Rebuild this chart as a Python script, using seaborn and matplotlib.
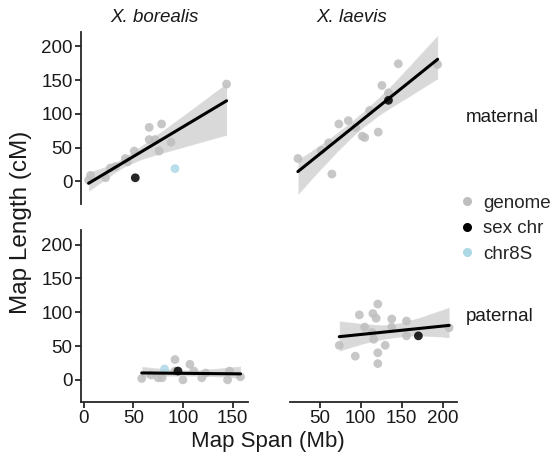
import numpy as np
import pandas as pd
import matplotlib
matplotlib.use("Agg")
import matplotlib.pyplot as plt
from matplotlib.lines import Line2D
import seaborn as sns

# ---- data -------------------------------------------------------------
# X. borealis, maternal
bor_mat_span = [144, 7, 5, 22, 27, 32, 42, 44, 51, 66, 78.5, 66, 72, 76, 88, 52, 92]
bor_mat_len = [144, 9, 2, 5.5, 20, 22, 34, 29, 45, 80, 85, 62, 62, 45, 58, 5.5, 19]
bor_mat_type = ['genome'] * 15 + ['sex chr', 'chr8S']

# X. laevis, maternal
lae_mat_span = [23.5, 65, 52, 61, 73.5, 85, 94, 102, 105, 111, 121.5, 126, 134, 146, 194, 134]
lae_mat_len = [34, 11, 46, 57, 85, 90, 80, 67, 65, 105, 73, 142, 131, 174, 173, 120]
lae_mat_type = ['genome'] * 15 + ['sex chr']

# X. borealis, paternal
bor_pat_span = [58.5, 68, 75, 79, 92, 92, 100, 107, 111, 119, 123, 145, 147, 158, 95, 81.5]
bor_pat_len = [2, 7, 3, 3, 30, 13, 0, 23, 13, 3, 10, 0, 13, 4.5, 13, 16]
bor_pat_type = ['genome'] * 14 + ['sex chr', 'chr8S']

# X. laevis, paternal
lae_pat_span = [74, 93.5, 98.5, 105, 114, 115, 119, 121, 116, 121, 121, 130, 138, 138,
                156, 156, 208, 170.5]
lae_pat_len = [51, 35, 96, 78, 70, 98, 91, 112, 60, 40, 24, 51, 90, 78, 87, 65, 77, 65]
lae_pat_type = ['genome'] * 17 + ['sex chr']

species = ['X. borealis', 'X. laevis']
parents = ['maternal', 'paternal']
types = ['genome', 'sex chr', 'chr8S']

paleta = {'genome': '#BEBEBE', 'sex chr': '#000000', 'chr8S': '#ADD8E6'}

paneles = {
    ('X. borealis', 'maternal'): (bor_mat_span, bor_mat_len, bor_mat_type),
    ('X. laevis', 'maternal'): (lae_mat_span, lae_mat_len, lae_mat_type),
    ('X. borealis', 'paternal'): (bor_pat_span, bor_pat_len, bor_pat_type),
    ('X. laevis', 'paternal'): (lae_pat_span, lae_pat_len, lae_pat_type),
}

# ---- figure -----------------------------------------------------------
sns.set_style("white")
plt.rcParams['font.family'] = ['Liberation Sans', 'DejaVu Sans']
plt.rcParams['font.size'] = 13.5

fig = plt.figure(figsize=(5.55, 4.57), dpi=100)

# posiciones de los paneles (fracciones de figura)
col_left = [0.146, 0.523]
col_w = 0.301
row_bottom = [0.554, 0.120]
row_h = 0.376
xlims = [(-2.65, 165.65), (14.2, 218)]
xticks = [[0, 50, 100, 150], [50, 100, 150, 200]]
title_x = [0.278, 0.634]

for i, par in enumerate(parents):
    for j, sp in enumerate(species):
        ax = fig.add_axes([col_left[j], row_bottom[i], col_w, row_h])
        span, length, tipo = paneles[(sp, par)]
        df = pd.DataFrame({'span': span, 'length': length, 'type': tipo})

        sns.regplot(data=df, x='span', y='length', scatter=False, ax=ax,
                    color='black', ci=95, n_boot=2000, seed=3,
                    line_kws={'lw': 2.2, 'zorder': 4})
        sns.scatterplot(data=df, x='span', y='length', hue='type',
                        palette=paleta, hue_order=types, s=40, alpha=0.85,
                        edgecolor='none', legend=False, ax=ax, zorder=3)

        ax.set_xlim(*xlims[j])
        ax.set_ylim(-33, 221)
        ax.set_xlabel('')
        ax.set_ylabel('')
        for s in ['top', 'right']:
            ax.spines[s].set_visible(False)
        ax.spines['left'].set_linewidth(1.3)
        ax.spines['bottom'].set_linewidth(1.3)
        ax.tick_params(width=1.1, length=4, labelsize=13.5, pad=2,
                       colors='black', labelcolor='#1a1a1a')

        if j == 0:
            ax.set_yticks([0, 50, 100, 150, 200])
            ax.tick_params(axis='y', left=True)
        else:
            ax.spines['left'].set_visible(False)
            ax.set_yticks([])
        if i == 1:
            ax.set_xticks(xticks[j])
            ax.tick_params(axis='x', bottom=True)
        else:
            ax.spines['bottom'].set_visible(False)
            ax.set_xticks([])

        if i == 0:
            fig.text(title_x[j], 0.961, sp, style='italic', fontsize=13.5,
                     ha='center', va='center', color='#1a1a1a')
        if j == 1:
            ax.text(1.05, 0.5, par, transform=ax.transAxes, ha='left',
                    va='center', fontsize=13.5, color='#1a1a1a')

fig.text(0.037, 0.514, 'Map Length (cM)', rotation=90, ha='center', va='center',
         fontsize=17.5, color='#1a1a1a')
fig.text(0.483, 0.035, 'Map Span (Mb)', ha='center', va='center', fontsize=16,
         color='#1a1a1a')

handles = [Line2D([], [], marker='o', ls='', color=paleta[t], markersize=6.5,
                  markeredgewidth=0) for t in types]
fig.legend(handles, types, loc='center left', bbox_to_anchor=(0.79, 0.50),
           frameon=False, fontsize=13.5, handletextpad=0.3, labelspacing=0.45,
           handlelength=1.2)

plt.savefig('out.png', dpi=100)
